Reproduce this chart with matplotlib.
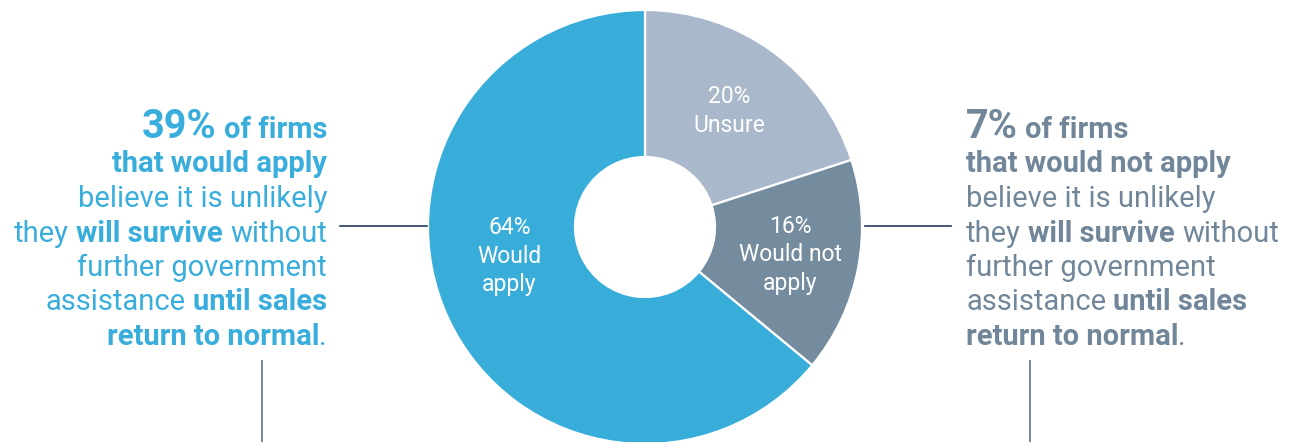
import matplotlib
matplotlib.use("Agg")
import matplotlib.pyplot as plt
import numpy as np

# survey split: would the firm apply for further support?
categories = ["Unsure", "Would not apply", "Would apply"]
shares = [20, 16, 64]
slice_labels = ["20%\nUnsure", "16%\nWould not\napply", "64%\nWould\napply"]
colors = ["#A9B8CA", "#758B9E", "#38ADDA"]

# callout texts, one list of (text, bold) runs per line
left_lines = [
    [("39%", "big"), (" of firms", True)],
    [("that would apply", True)],
    [("believe it is unlikely", False)],
    [("they ", False), ("will survive", True), (" without", False)],
    [("further government", False)],
    [("assistance ", False), ("until sales", True)],
    [("return to normal", True), (".", False)],
]
right_lines = [
    [("7%", "big"), (" of firms", True)],
    [("that would not apply", True)],
    [("believe it is unlikely", False)],
    [("they ", False), ("will survive", True), (" without", False)],
    [("further government", False)],
    [("assistance ", False), ("until sales", True)],
    [("return to normal", True), (".", False)],
]
left_color = "#39ADDB"
right_color = "#718799"

W, H = 1293, 442
fig = plt.figure(figsize=(W / 100, H / 100), dpi=100)
ax = fig.add_axes([0, 0, 1, 1])

cx, cy, R = 645, 215, 217
wedges, _ = ax.pie(shares, colors=colors, startangle=90, counterclock=False,
                   center=(cx, cy), radius=R, frame=True,
                   wedgeprops=dict(width=R - 70, edgecolor="white", linewidth=1.6))

# label placement inside each slice: (angle offset from mid, fraction of radius)
label_pos = [(0, 0.66), (0, 0.68), (-13, 0.64)]
for w, lab, (off, frac) in zip(wedges, slice_labels, label_pos):
    mid = np.deg2rad((w.theta1 + w.theta2) / 2 + off)
    ax.text(cx + frac * R * np.cos(mid), cy + frac * R * np.sin(mid), lab,
            ha="center", va="center", color="white", fontsize=16.5,
            family="Roboto", linespacing=1.3)

ax.set_xlim(0, W)
ax.set_ylim(0, H)
ax.set_aspect("equal")
ax.axis("off")

# connector lines
ax.plot([340, 427], [H - 226, H - 226], color="#223D5A", lw=1.2)
ax.plot([865, 951], [H - 226, H - 226], color="#223D5A", lw=1.2)
ax.plot([262, 262], [H - 361, 0], color="#6E8091", lw=1.3)
ax.plot([1030, 1030], [H - 361, 0], color="#6E8091", lw=1.3)

renderer = fig.canvas.get_renderer()


def text_width(s, size, weight):
    t = ax.text(0, 0, s, fontsize=size, family="Roboto", fontweight=weight)
    bb = t.get_window_extent(renderer)
    t.remove()
    return bb.width


def draw_block(lines, x, y0, step, align, color):
    for i, parts in enumerate(lines):
        y = H - (y0 + i * step)
        runs = []
        for s, b in parts:
            size = 28.5 if b == "big" else 21
            weight = "bold" if b else "normal"
            lead = len(s) - len(s.lstrip(" "))
            trail = len(s) - len(s.rstrip(" "))
            sp = text_width("x x", size, weight) - text_width("xx", size, weight)
            core = s.strip(" ")
            runs.append((core, size, weight, lead * sp, text_width(core, size, weight), trail * sp))
        total = sum(a + w + c for _, _, _, a, w, c in runs)
        xpos = x - total if align == "right" else x
        for core, size, weight, a, w, c in runs:
            xpos += a
            ax.text(xpos, y, core, fontsize=size, family="Roboto", fontweight=weight,
                    color=color, ha="left", va="baseline")
            xpos += w + c


draw_block(left_lines, 327, 138, 34.5, "right", left_color)
draw_block(right_lines, 966, 138, 34.5, "left", right_color)

fig.savefig("out.png", dpi=100)
